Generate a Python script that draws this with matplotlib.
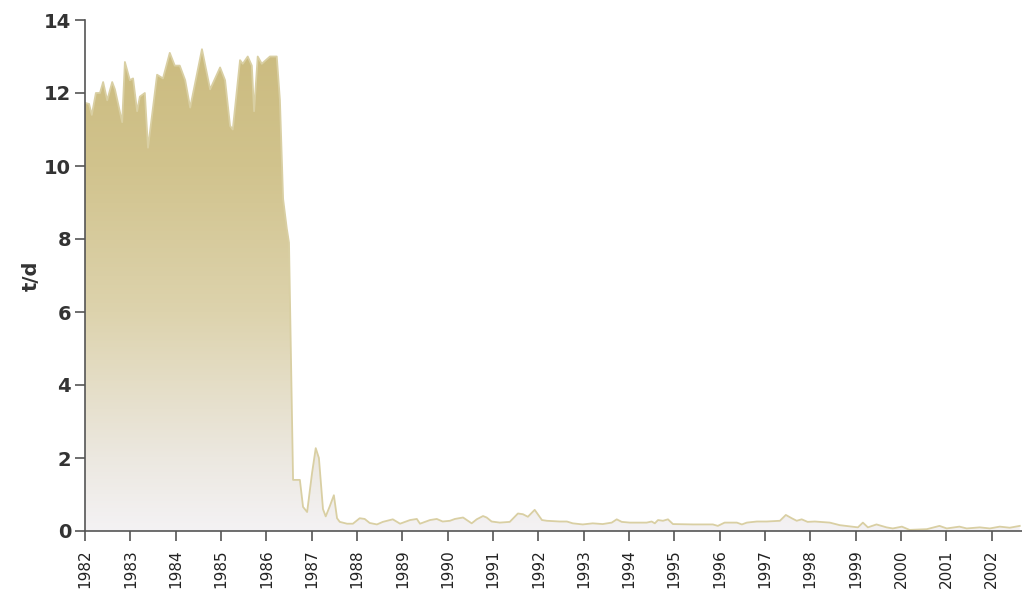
import numpy as np
import matplotlib.pyplot as plt
from matplotlib.colors import LinearSegmentedColormap

# Data (decimal years)
years = [1982.00, 1982.09, 1982.15, 1982.24, 1982.33, 1982.40, 1982.49, 1982.60, 1982.66, 1982.82,
         1982.88, 1982.99, 1983.06, 1983.15, 1983.21, 1983.32, 1983.39, 1983.59, 1983.72, 1983.87,
         1983.98, 1984.09, 1984.21, 1984.32, 1984.58, 1984.76, 1984.98, 1985.09, 1985.20, 1985.26,
         1985.42, 1985.48, 1985.59, 1985.68, 1985.73, 1985.81, 1985.90, 1986.08, 1986.23, 1986.30,
         1986.37, 1986.45, 1986.50, 1986.59, 1986.74, 1986.81, 1986.90, 1987.01, 1987.09, 1987.16,
         1987.25, 1987.31, 1987.40, 1987.49, 1987.56, 1987.62, 1987.78, 1987.91, 1988.06, 1988.17,
         1988.28, 1988.44, 1988.57, 1988.79, 1988.95, 1989.17, 1989.32, 1989.39, 1989.61, 1989.76,
         1989.89, 1990.05, 1990.16, 1990.34, 1990.53, 1990.64, 1990.78, 1990.86, 1990.97, 1991.15,
         1991.37, 1991.55, 1991.66, 1991.77, 1991.92, 1992.08, 1992.19, 1992.47, 1992.63, 1992.76,
         1992.98, 1993.20, 1993.42, 1993.62, 1993.73, 1993.84, 1994.02, 1994.39, 1994.50, 1994.57,
         1994.64, 1994.75, 1994.86, 1994.97, 1995.41, 1995.85, 1995.96, 1996.11, 1996.38, 1996.49,
         1996.60, 1996.82, 1997.04, 1997.33, 1997.46, 1997.59, 1997.70, 1997.81, 1997.94, 1998.10,
         1998.43, 1998.65, 1998.93, 1999.05, 1999.16, 1999.27, 1999.46, 1999.68, 1999.82, 2000.02,
         2000.19, 2000.57, 2000.85, 2001.01, 2001.29, 2001.45, 2001.74, 2001.96, 2002.18, 2002.40,
         2002.62]
load = [11.73, 11.7, 11.4, 12.0, 12.0, 12.3, 11.8, 12.3, 12.1, 11.2,
        12.85, 12.35, 12.4, 11.5, 11.9, 12.0, 10.5, 12.5, 12.4, 13.1,
        12.75, 12.75, 12.35, 11.6, 13.2, 12.1, 12.7, 12.35, 11.1, 11.0,
        12.9, 12.8, 13.0, 12.75, 11.5, 13.0, 12.8, 13.0, 13.0, 11.8,
        9.1, 8.3, 7.9, 1.4, 1.4, 0.66, 0.52, 1.6, 2.27, 2.0,
        0.6, 0.4, 0.68, 0.98, 0.35, 0.25, 0.2, 0.2, 0.35, 0.33,
        0.22, 0.18, 0.25, 0.32, 0.2, 0.3, 0.33, 0.2, 0.3, 0.33,
        0.26, 0.28, 0.33, 0.37, 0.21, 0.32, 0.41, 0.37, 0.26, 0.23,
        0.25, 0.48, 0.46, 0.39, 0.58, 0.3, 0.28, 0.26, 0.26, 0.21,
        0.18, 0.21, 0.19, 0.23, 0.32, 0.25, 0.23, 0.23, 0.26, 0.21,
        0.3, 0.28, 0.32, 0.19, 0.18, 0.18, 0.14, 0.23, 0.23, 0.18,
        0.23, 0.26, 0.26, 0.28, 0.44, 0.35, 0.28, 0.32, 0.25, 0.26,
        0.23, 0.16, 0.12, 0.1, 0.23, 0.1, 0.18, 0.1, 0.07, 0.12,
        0.03, 0.05, 0.14, 0.07, 0.12, 0.07, 0.1, 0.07, 0.12, 0.09,
        0.14]
tick_years = list(range(1982, 2003))

x0, x1 = 1982, 2002.67

fig = plt.figure(figsize=(10.22, 5.93), dpi=100)
ax = fig.add_axes([85 / 1022, 1 - 531 / 593, 1 - 85 / 1022, (531 - 20) / 593])

# gradient fill clipped to the area under the curve
cmap = LinearSegmentedColormap.from_list("khaki", [
    (0.0, "#f4f2f4"), (0.15, "#ece8e0"), (0.45, "#ddd3ad"),
    (0.75, "#d1c38d"), (1.0, "#cbbb7f")])
grad = np.linspace(0, 1, 256).reshape(-1, 1)
poly = ax.fill_between(years, load, 0, color="none", lw=0)
img = ax.imshow(grad, cmap=cmap, aspect="auto", origin="lower",
                extent=[x0, x1, 0, 13.3], zorder=1)
img.set_clip_path(poly.get_paths()[0], transform=ax.transData)
ax.plot(years, load, color="#d9cfa3", lw=1.3, zorder=2)

ax.set_xlim(x0, x1)
ax.set_ylim(0, 14)
ax.set_yticks(range(0, 15, 2))
ax.set_xticks(tick_years)
ax.set_xticklabels([str(y) for y in tick_years], rotation=90, fontsize=11,
                   color="#222222")
for lbl in ax.get_yticklabels():
    lbl.set_fontsize(14)
    lbl.set_fontweight("bold")
    lbl.set_color("#333333")
ax.set_ylabel("t/d", fontsize=14, fontweight="semibold", color="#333333")
ax.yaxis.set_label_coords(-44 / 937, 0.5)

for s in ["top", "right"]:
    ax.spines[s].set_visible(False)
for s in ["left", "bottom"]:
    ax.spines[s].set_color("#555555")
    ax.spines[s].set_linewidth(1.2)
ax.tick_params(axis="both", direction="out", length=7, width=1.2, color="#555555")
ax.tick_params(axis="y", pad=3)
ax.tick_params(axis="x", pad=6)

fig.savefig("out.png", dpi=100)
